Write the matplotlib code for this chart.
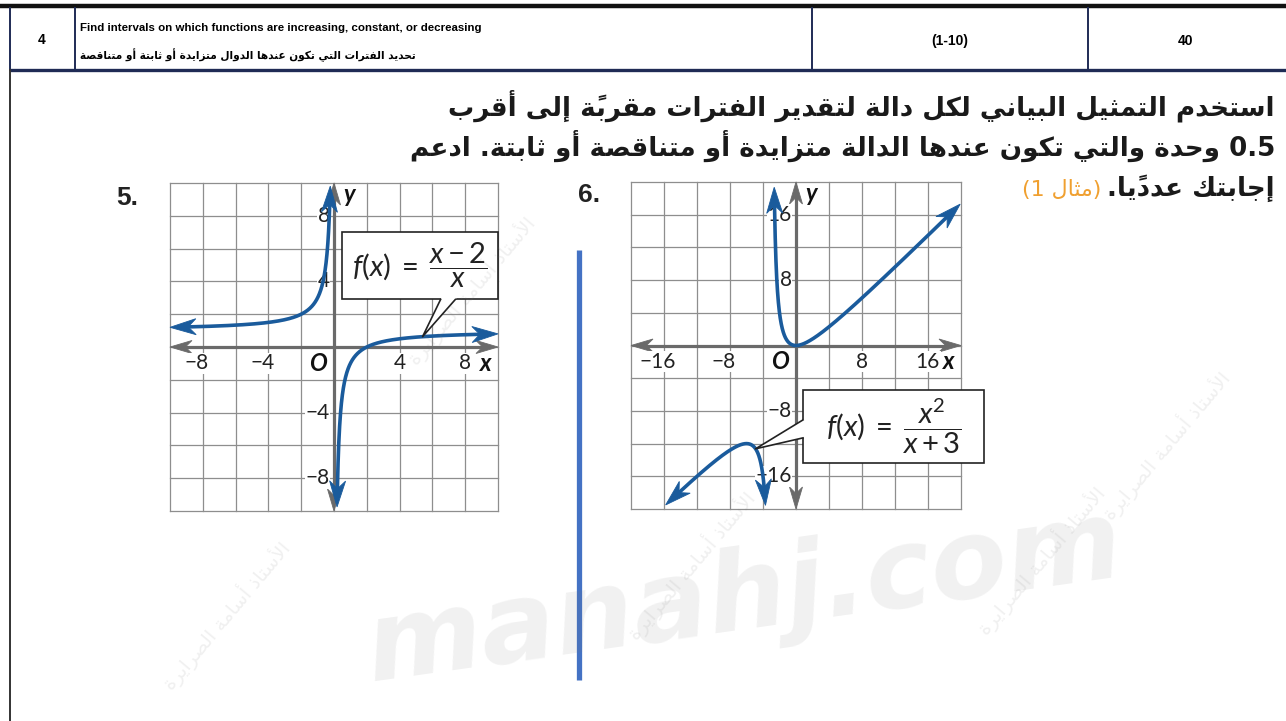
import re
import numpy as np
import matplotlib
matplotlib.use('Agg')
import matplotlib.pyplot as plt
from matplotlib.patches import Polygon, Rectangle
from matplotlib import font_manager

# header row
header_num = '4'
header_en = 'Find intervals on which functions are increasing, constant, or decreasing'
header_ar = 'تحديد الفترات التي تكون عندها الدوال متزايدة أو ثابتة أو متناقصة'
header_range = '(1-10)'
header_total = '40'

# instructions
instr_lines = [
    'استخدم التمثيل البياني لكل دالة لتقدير الفترات مقربةً إلى أقرب',
    '0.5 وحدة والتي تكون عندها الدالة متزايدة أو متناقصة أو ثابتة. ادعم',
    'إجابتك عدديًا.',
]
instr_ref = '(مثال 1)'
watermark = 'manahj.com'
watermark_ar = 'الأستاذ أسامة الصرايرة'

# problem 5: f(x) = (x - 2) / x
p5_label = '5.'
p5_lim, p5_step = 10, 2
p5_xticks = [-8, -4, 4, 8]
p5_yticks = [8, 4, -4, -8]
p5_branches = [(-10, -0.227), (0.186, 10)]
p5_box = (0.5, 2.9, 10.0, 7.0)
p5_pointer = [(6.5, 2.9), (7.4, 2.9)]
p5_pointer_x = 5.4
p5_formula = r'$f(x)\;=\;\dfrac{x-2}{x}$'

# problem 6: f(x) = x^2 / (x + 3)
p6_label = '6.'
p6_lim, p6_step = 20, 4
p6_xticks = [-16, -8, 8, 16]
p6_yticks = [16, 8, -8, -16]
p6_branches = [(-15.8, -3.70), (-2.64, 19.9)]
p6_box = (0.85, -14.4, 22.8, -5.4)
p6_pointer = [(0.85, -9.1), (0.85, -11.3)]
p6_pointer_x = -4.9
p6_formula = r'$f(x)\;=\;\dfrac{x^{2}}{x+3}$'


def f5(x):
    return (x - 2) / x


def f6(x):
    return x ** 2 / (x + 3)


# --- minimal arabic shaping (presentation forms + RTL order) ---
FORMS = {
    '\u0621': (0xFE80, 1), '\u0622': (0xFE81, 2), '\u0623': (0xFE83, 2),
    '\u0624': (0xFE85, 2), '\u0625': (0xFE87, 2), '\u0626': (0xFE89, 4),
    '\u0627': (0xFE8D, 2), '\u0628': (0xFE8F, 4), '\u0629': (0xFE93, 2),
    '\u062A': (0xFE95, 4), '\u062B': (0xFE99, 4), '\u062C': (0xFE9D, 4),
    '\u062D': (0xFEA1, 4), '\u062E': (0xFEA5, 4), '\u062F': (0xFEA9, 2),
    '\u0630': (0xFEAB, 2), '\u0631': (0xFEAD, 2), '\u0632': (0xFEAF, 2),
    '\u0633': (0xFEB1, 4), '\u0634': (0xFEB5, 4), '\u0635': (0xFEB9, 4),
    '\u0636': (0xFEBD, 4), '\u0637': (0xFEC1, 4), '\u0638': (0xFEC5, 4),
    '\u0639': (0xFEC9, 4), '\u063A': (0xFECD, 4), '\u0641': (0xFED1, 4),
    '\u0642': (0xFED5, 4), '\u0643': (0xFED9, 4), '\u0644': (0xFEDD, 4),
    '\u0645': (0xFEE1, 4), '\u0646': (0xFEE5, 4), '\u0647': (0xFEE9, 4),
    '\u0648': (0xFEED, 2), '\u0649': (0xFEEF, 2), '\u064A': (0xFEF1, 4),
}
LAM_ALEF = {'\u0622': 0xFEF5, '\u0623': 0xFEF7, '\u0625': 0xFEF9, '\u0627': 0xFEFB}
MARKS = set(chr(c) for c in range(0x064B, 0x0653))


def nforms(c):
    if isinstance(c, tuple):
        return 2
    return FORMS.get(c, (0, 0))[1]


def shape_ar(text):
    clusters = []
    for ch in text:
        if ch in MARKS and clusters:
            clusters[-1][1] += ch
        else:
            clusters.append([ch, ''])
    merged = []
    i = 0
    while i < len(clusters):
        c, m = clusters[i]
        if c == '\u0644' and i + 1 < len(clusters) and clusters[i + 1][0] in LAM_ALEF:
            merged.append([('LA', clusters[i + 1][0]), m + clusters[i + 1][1]])
            i += 2
        else:
            merged.append([c, m])
            i += 1
    out = []
    for i, (c, m) in enumerate(merged):
        n = nforms(c)
        if n == 0:
            out.append(c + m)
            continue
        base = LAM_ALEF[c[1]] if isinstance(c, tuple) else FORMS[c][0]
        jp = n >= 2 and i > 0 and nforms(merged[i - 1][0]) == 4
        jn = n == 4 and i + 1 < len(merged) and nforms(merged[i + 1][0]) >= 2
        if jp and jn:
            g = base + 3
        elif jp:
            g = base + 1
        elif jn:
            g = base + 2
        else:
            g = base
        out.append(chr(g) + m)
    s = ''.join(out[::-1])
    s = s.translate(str.maketrans('()', ')('))
    s = re.sub(r'[0-9A-Za-z]+(?:[.\-][0-9A-Za-z]+)*', lambda mt: mt.group(0)[::-1], s)
    return s


names = {f.name for f in font_manager.fontManager.ttflist}
narrow = 'Liberation Sans Narrow' if 'Liberation Sans Narrow' in names else 'Liberation Sans'

plt.rcParams['mathtext.fontset'] = 'custom'
plt.rcParams['mathtext.it'] = 'Lato:italic'
plt.rcParams['mathtext.rm'] = 'Lato'
plt.rcParams['mathtext.bf'] = 'Lato:bold'

W, H = 1286, 721
fig = plt.figure(figsize=(W / 100, H / 100), dpi=100)
fig.patch.set_facecolor('white')
renderer = fig.canvas.get_renderer()

page = fig.add_axes([0, 0, 1, 1])
page.set_xlim(0, W)
page.set_ylim(H, 0)
page.set_axis_off()

navy = '#1f2b55'


def fit(t, target):
    w = t.get_window_extent(renderer).width
    t.set_fontsize(t.get_fontsize() * target / w)


# header table
page.plot([0, W], [6, 6], color='#111111', lw=3.2, solid_capstyle='butt')
page.plot([10, W], [70, 70], color=navy, lw=2.4, solid_capstyle='butt')
for xv in [10, 75, 812, 1088]:
    page.plot([xv, xv], [8, 70], color=navy, lw=1.4)
page.plot([10, 10], [70, H], color='#333333', lw=1.4)

page.text(42, 40, header_num, ha='center', va='center', fontsize=10,
          fontweight='bold', family=narrow)
t = page.text(80, 31, header_en, ha='left', va='baseline', fontsize=9,
              fontweight='bold', family=narrow)
fit(t, 400)
t = page.text(80, 59, shape_ar(header_ar), ha='left', va='baseline', fontsize=8,
              fontweight='bold', family='DejaVu Sans')
fit(t, 335)
page.text(950, 41, header_range, ha='center', va='center', fontsize=10,
          fontweight='bold', family=narrow)
page.text(1186, 41, header_total, ha='center', va='center', fontsize=10,
          fontweight='bold', family=narrow)

# instruction paragraph, right aligned
baselines = [116, 156, 196]
lines = []
for s, yb in zip(instr_lines, baselines):
    lines.append(page.text(1275, yb, shape_ar(s), ha='right', va='baseline',
                           fontsize=20, fontweight='bold', family='DejaVu Sans',
                           color='#1a1a1a'))
fit(lines[1], 862)
for t in lines:
    t.set_fontsize(lines[1].get_fontsize())
left3 = lines[2].get_window_extent(renderer).x0
page.text(left3 - 6, 196, shape_ar(instr_ref), ha='right', va='baseline',
          fontsize=lines[1].get_fontsize() * 0.85, family='DejaVu Sans',
          color='#f0a030')

# divider between the two problems
page.plot([578.5, 578.5], [250, 680], color='#4472c4', lw=3.8,
          solid_capstyle='butt')

page.text(116, 205, p5_label, ha='left', va='baseline', fontsize=19,
          fontweight='bold', family='Liberation Sans', color='#222222')
page.text(578, 202, p6_label, ha='left', va='baseline',
          fontsize=19, fontweight='bold', family='Liberation Sans', color='#222222')


def add_axes_px(x0, y0, x1, y1):
    return fig.add_axes([x0 / W, 1 - y1 / H, (x1 - x0) / W, (y1 - y0) / H])


blue = '#1a5b9c'
gray = '#6a6a6a'


def draw_branch(ax, xs, ys, color, lw, L, Wd, z):
    pts = ax.transData.transform(np.column_stack([xs, ys]))
    inv = ax.transData.inverted()
    keep = np.ones(len(pts), bool)
    for tip_i, order in [(0, pts[::-1]), (-1, pts)]:
        tip = pts[tip_i]
        d = np.hypot(*(order - tip).T)
        idx = np.where(d >= L)[0]
        back = order[idx[-1]]
        u = (tip - back) / np.hypot(*(tip - back))
        n = np.array([-u[1], u[0]])
        poly = np.array([tip, tip - L * u + Wd / 2 * n, tip - 0.7 * L * u,
                         tip - L * u - Wd / 2 * n])
        ax.add_patch(Polygon(inv.transform(poly), closed=True, fc=color,
                             ec=color, lw=0.6, zorder=z, clip_on=False))
        keep &= np.hypot(*(pts - tip).T) > 0.6 * L
    ax.plot(xs[keep], ys[keep], color=color, lw=lw, zorder=z,
            solid_capstyle='round', clip_on=False)


def draw_graph(ax, lim, step, xticks, yticks, func, branches, box, pointer,
               pointer_x, formula, fsize):
    ax.set_xlim(-lim, lim)
    ax.set_ylim(-lim, lim)
    ax.set_axis_off()
    ax.patch.set_alpha(0)
    for v in np.arange(-lim, lim + step / 2, step):
        ax.plot([v, v], [-lim, lim], color='#8e8e8e', lw=0.9, zorder=1, clip_on=False)
        ax.plot([-lim, lim], [v, v], color='#8e8e8e', lw=0.9, zorder=1, clip_on=False)
    line = np.linspace(-lim, lim, 400)
    draw_branch(ax, line, np.zeros_like(line), gray, 2.3, 22, 13, 2)
    draw_branch(ax, np.zeros_like(line), line, gray, 2.3, 22, 13, 2)

    lab = dict(fontsize=15, family=['Lato', 'DejaVu Sans'], color='#222222',
               zorder=3, textcoords='offset points',
               bbox=dict(fc='white', ec='none', pad=0.4))
    for tk in xticks:
        s = str(tk).replace('-', '\u2212')
        ndig = len(str(abs(tk)))
        ax.annotate(s, xy=(tk, -step / 2), xytext=(ndig * 4.3, 0),
                    ha='right', va='center', **lab)
    for tk in yticks:
        s = str(tk).replace('-', '\u2212')
        ax.annotate(s, xy=(0, tk), xytext=(-3, 0), ha='right', va='center', **lab)
    bi = dict(fontsize=17, family=['Lato', 'DejaVu Sans'], fontweight='bold',
              fontstyle='italic', color='#111111', zorder=3)
    ax.text(-step / 2, -step / 2, 'O', ha='center', va='center', **bi)
    ax.text(0.925 * lim, -step / 2, 'x', ha='center', va='center', **bi)
    ax.text(0.09 * lim, 0.93 * lim, 'y', ha='center', va='center', **bi)

    for a, b in branches:
        xs = np.linspace(a, b, 3000)
        draw_branch(ax, xs, func(xs), blue, 2.6, 26, 16, 4)

    x0, y0, x1, y1 = box
    ax.add_patch(Rectangle((x0, y0), x1 - x0, y1 - y0, fc='white', ec='#222222',
                           lw=1.2, zorder=6, clip_on=False))
    tip = np.array([pointer_x, func(pointer_x)])
    b1, b2 = np.array(pointer[0]), np.array(pointer[1])
    e1, e2 = b1 + (b1 - tip) * 0.05, b2 + (b2 - tip) * 0.05
    ax.add_patch(Polygon([e1, tip, e2], closed=True, fc='white', ec='none',
                         zorder=6.5, clip_on=False))
    ax.plot([b1[0], tip[0], b2[0]], [b1[1], tip[1], b2[1]], color='#222222',
            lw=1.2, zorder=7, clip_on=False)
    ax.text((x0 + x1) / 2, (y0 + y1) / 2, formula, ha='center', va='center',
            fontsize=fsize, color='#222222', zorder=8)


ax5 = add_axes_px(170, 183, 498, 511)
draw_graph(ax5, p5_lim, p5_step, p5_xticks, p5_yticks, f5, p5_branches,
           p5_box, p5_pointer, p5_pointer_x, p5_formula, 21)
ax6 = add_axes_px(631, 182, 961, 509)
draw_graph(ax6, p6_lim, p6_step, p6_xticks, p6_yticks, f6, p6_branches,
           p6_box, p6_pointer, p6_pointer_x, p6_formula, 21)

# watermark over everything
over = fig.add_axes([0, 0, 1, 1], zorder=20)
over.set_xlim(0, W)
over.set_ylim(H, 0)
over.set_axis_off()
over.patch.set_alpha(0)
over.text(745, 598, watermark, ha='center', va='center', fontsize=80,
          fontweight='heavy', fontstyle='italic', family='DejaVu Sans',
          color='#7a7a7a', alpha=0.10, rotation=8)
for xw, yw in [(225, 615), (1165, 445), (1040, 560), (690, 565), (470, 290)]:
    over.text(xw, yw, shape_ar(watermark_ar), ha='center', va='center',
              fontsize=14, family='DejaVu Sans', color='#7a7a7a', alpha=0.11,
              rotation=50)

fig.savefig('out.png', dpi=100, facecolor='white')
